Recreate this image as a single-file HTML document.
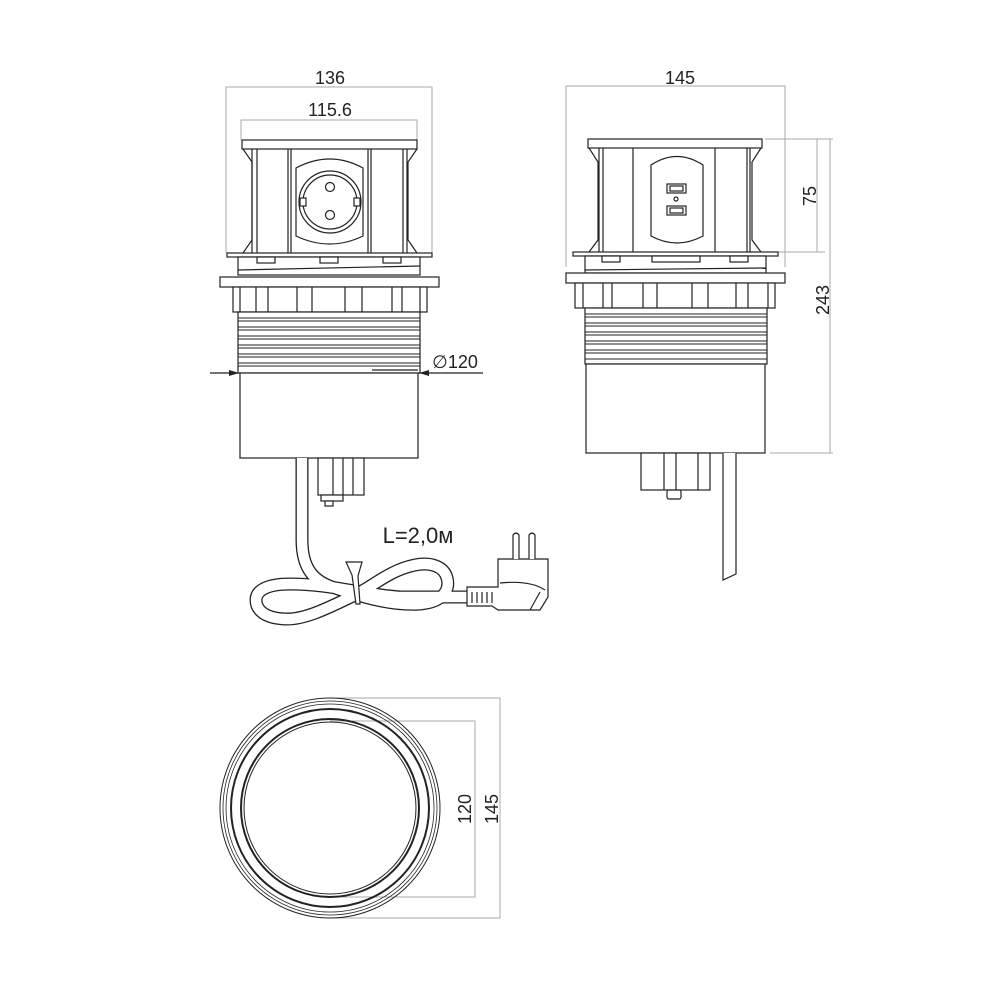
<!DOCTYPE html>
<html><head><meta charset="utf-8"><style>
html,body{margin:0;padding:0;background:#fff;}
svg{display:block;}
text{font-family:"Liberation Sans",Arial,sans-serif;fill:#222;}
</style></head><body>
<svg width="1000" height="1000" viewBox="0 0 1000 1000" xmlns="http://www.w3.org/2000/svg">
<defs>
<marker id="ar" markerWidth="10" markerHeight="6" refX="10" refY="3" orient="auto" markerUnits="userSpaceOnUse"><path d="M0,0 L10,3 L0,6 Z" fill="#222"/></marker>
<path id="cab" d="M302,458 V540 C302,570 315,582 335,588 C360,596 390,606 420,604 C445,602 450,588 447,578 C444,566 430,562 415,565 C390,570 375,585 355,595 C330,607 305,620 285,619 C262,618 256,608 256,600 C256,590 268,584 290,584 C330,584 360,594 400,597 L470,597"/>
</defs>
<g fill="none" stroke="#aaa" stroke-width="1">
<path d="M226,253 V87 H432 V253"/>
<path d="M241,140 V120 H417 V140"/>
<path d="M566,267 V86 H785 V267"/>
<path d="M765,139 H833 M765,252 H825 M770,453 H833"/>
<path d="M817,139 V252 M830,139 V453"/>
<path d="M330,698 H500 V918 H330"/>
<path d="M330,721 H475 V897 H330"/>
</g>
<g font-size="18" text-anchor="middle">
<text x="330" y="84">136</text>
<text x="330" y="116">115.6</text>
<text x="680" y="84">145</text>
<text x="455" y="368">∅120</text>
<text transform="translate(816,196) rotate(-90)">75</text>
<text transform="translate(829,300) rotate(-90)">243</text>
<text transform="translate(471,809) rotate(-90)">120</text>
<text transform="translate(498,809) rotate(-90)">145</text>
<text x="418" y="543" font-size="22">L=2,0м</text>
</g>

<!-- FRONT VIEW -->
<g fill="#fff" stroke="#222" stroke-width="1.2">
<rect x="242" y="140" width="175" height="9"/>
<path d="M243,149 L252,162 V240 L243,253 M417,149 L408,162 V240 L417,253"/>
<path d="M252,149 V253 M257,149 V253 M288,149 V253 M291,149 V253 M368,149 V253 M371,149 V253 M403,149 V253 M407,149 V253"/>
<path d="M296,168 Q330,150 363,168 V236 Q330,252 296,236 Z"/>
<circle cx="330" cy="202" r="31"/>
<circle cx="330" cy="202" r="27"/>
<circle cx="330" cy="187" r="4.5"/>
<circle cx="330" cy="215" r="4.5"/>
<rect x="300" y="198" width="6" height="8"/><rect x="354" y="198" width="6" height="8"/>
<rect x="227" y="253" width="205" height="4"/>
<rect x="238" y="257" width="182" height="18"/>
<path d="M238,270 L420,266"/>
<rect x="257" y="257" width="18" height="6"/><rect x="320" y="257" width="18" height="6"/><rect x="383" y="257" width="18" height="6"/>
<rect x="220" y="277" width="219" height="10"/>
<rect x="233" y="287" width="194" height="25"/>
<path d="M240,287V312 M256,287V312 M268,287V312 M297,287V312 M312,287V312 M345,287V312 M362,287V312 M392,287V312 M402,287V312 M420,287V312"/>
<rect x="238" y="312" width="182" height="61"/>
<path d="M238,318H420 M238,321H420 M238,327H420 M238,330H420 M238,336H420 M238,339H420 M238,345H420 M238,348H420 M238,354H420 M238,357H420 M238,363H420 M238,366H420" stroke-width="0.9"/>
<rect x="240" y="373" width="178" height="85"/>
<path d="M372,370 H418"/>
</g>
<g fill="none" stroke="#222" stroke-width="1.2">
<path d="M210,373 H239" marker-end="url(#ar)"/>
<path d="M483,373 H419" marker-end="url(#ar)"/>
</g>
<!-- cable -->
<use href="#cab" fill="none" stroke="#222" stroke-width="13"/>
<use href="#cab" fill="none" stroke="#fff" stroke-width="10.4"/>
<g fill="#fff" stroke="#222" stroke-width="1.2">
<rect x="318" y="458" width="46" height="37"/>
<path d="M333,458V495 M343,458V495 M353,458V495" fill="none"/>
<rect x="321" y="495" width="22" height="6"/><rect x="325" y="501" width="8" height="5"/>
<path d="M346,562 L352,575 L356,604 L360,604 L358,576 L362,562 Z"/>
<path d="M467,587 H498 V559 H548 V597 L540,610 H498 L492,606 H467 Z"/>
<path d="M500,583 Q530,580 545,590" fill="none"/>
<path d="M530,610 L540,592" fill="none"/>
<path d="M513,559 V535 Q516,531 519,535 V559 M529,559 V535 Q532,531 535,535 V559"/>
<path d="M472,592 V603 M477,592 V603 M482,592 V603 M487,592 V603 M492,592 V603" fill="none"/>
</g>

<!-- RIGHT VIEW -->
<g fill="#fff" stroke="#222" stroke-width="1.2">
<rect x="588" y="139" width="174" height="9"/>
<path d="M589,148 L598,162 V240 L589,252 M761,148 L752,162 V240 L761,252"/>
<path d="M599,148V252 M603,148V252 M633,148V252 M715,148V252 M747,148V252 M750,148V252"/>
<path d="M651,165 Q677,148 703,165 V236 Q677,250 651,236 Z"/>
<rect x="667" y="184" width="19" height="9"/><rect x="670" y="186" width="13" height="5"/>
<rect x="667" y="206" width="19" height="9"/><rect x="670" y="208" width="13" height="5"/>
<circle cx="676" cy="199" r="2"/>
<rect x="573" y="252" width="205" height="4"/>
<rect x="585" y="256" width="181" height="17"/>
<path d="M585,270 L766,268"/>
<rect x="602" y="256" width="18" height="6"/><rect x="652" y="256" width="48" height="6"/><rect x="730" y="256" width="18" height="6"/>
<rect x="566" y="273" width="219" height="10"/>
<rect x="575" y="283" width="200" height="25"/>
<path d="M583,283V308 M603,283V308 M612,283V308 M643,283V308 M657,283V308 M692,283V308 M708,283V308 M736,283V308 M748,283V308 M768,283V308"/>
<rect x="585" y="308" width="182" height="56"/>
<path d="M585,314H767 M585,317H767 M585,323H767 M585,326H767 M585,332H767 M585,335H767 M585,341H767 M585,344H767 M585,350H767 M585,353H767 M585,359H767" stroke-width="0.9"/>
<rect x="586" y="364" width="179" height="89"/>
<rect x="641" y="453" width="69" height="37"/>
<path d="M664,453V490 M676,453V490 M698,453V490"/>
<rect x="667" y="490" width="14" height="9" rx="2"/>
<path d="M723,453 V580 L736,574 V453"/>
</g>

<!-- CIRCLE VIEW -->
<g fill="none" stroke="#222">
<circle cx="330" cy="808" r="110" stroke-width="1"/>
<circle cx="330" cy="808" r="107" stroke-width="0.8"/>
<circle cx="330" cy="808" r="104" stroke-width="0.8"/>
<circle cx="330" cy="808" r="99" stroke-width="2"/>
<circle cx="330" cy="808" r="89" stroke-width="2"/>
<circle cx="330" cy="808" r="86" stroke-width="1"/>
</g>
</svg>
</body></html>
